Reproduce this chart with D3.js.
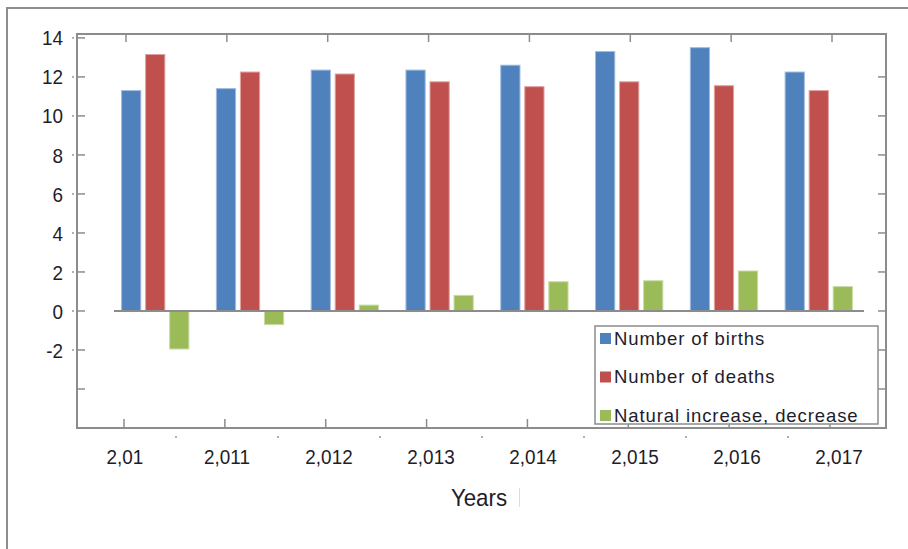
<!DOCTYPE html>
<html lang="en">
<head>
    <meta charset="utf-8">
    <script src="https://d3js.org/d3.v7.min.js"></script>
    <style>
        body { margin: 0; background: #fff; }
        text {
            font-family: "Liberation Sans", Arial, sans-serif;
            fill: #1d1d2b;
        }
    </style>
</head>
<body>

<div id="my_dataviz"></div>

<script>

// Data
const years = ["2010", "2011", "2012", "2013", "2014", "2015", "2016", "2017"];
const yearLabels = ["2,01", "2,011", "2,012", "2,013", "2,014", "2,015", "2,016", "2,017"];
const births = [11.3, 11.4, 12.35, 12.35, 12.6, 13.3, 13.5, 12.25];
const deaths = [13.15, 12.25, 12.15, 11.75, 11.5, 11.75, 11.55, 11.3];
const natural = [-1.95, -0.7, 0.3, 0.8, 1.5, 1.55, 2.05, 1.25];
const seriesNames = ["Number of births", "Number of deaths", "Natural increase, decrease"];
const yTicks = [14, 12, 10, 8, 6, 4, 2, 0, -2, -4];
const yLabelled = [14, 12, 10, 8, 6, 4, 2, 0, -2];

const colors = ["#4f81bd", "#c0504d", "#9bbb59"];
const strokes = ["#9fbbe0", "#e0a3a1", "#c9dca6"];

const width = 908, height = 549;
const plot = { left: 77, top: 34, right: 886, bottom: 428 };

const table = years.map((y, i) => ({ year: y, values: [births[i], deaths[i], natural[i]] }));

const svg = d3.select("#my_dataviz").append("svg")
    .attr("width", width)
    .attr("height", height);

// outer frame (runs off the bottom and right of the picture)
svg.append("rect")
    .attr("x", 7).attr("y", 8)
    .attr("width", 910).attr("height", 560)
    .attr("fill", "none")
    .attr("stroke", "#8e8e8e")
    .attr("stroke-width", 2);

// scales
const y = d3.scaleLinear().domain([-6, 14.2]).range([plot.bottom, plot.top]);

const x0 = d3.scaleBand()
    .domain(years)
    .range([114, 860])
    .paddingInner(0.29)
    .paddingOuter(0.08);

const x1 = d3.scaleBand()
    .domain(d3.range(3))
    .range([0, x0.bandwidth()])
    .paddingInner(0.2);

// year labels and the ticks sit on their own spacing
const xLab = d3.scalePoint().domain(yearLabels).range([125, 839]);
const xTick = d3.scalePoint().domain(yearLabels).range([126, 832]);

// bars
const groups = svg.append("g")
    .selectAll("g")
    .data(table)
    .enter().append("g")
    .attr("transform", d => `translate(${x0(d.year)},0)`);

groups.selectAll("rect")
    .data(d => d.values.map((v, k) => ({ k: k, v: v })))
    .enter().append("rect")
    .attr("x", d => x1(d.k))
    .attr("width", x1.bandwidth())
    .attr("y", d => y(Math.max(0, d.v)))
    .attr("height", d => Math.abs(y(d.v) - y(0)))
    .attr("fill", d => colors[d.k])
    .attr("stroke", d => strokes[d.k])
    .attr("stroke-width", 1);

// zero line
svg.append("line")
    .attr("x1", 114).attr("x2", 864)
    .attr("y1", y(0)).attr("y2", y(0))
    .attr("stroke", "#8c8c8c")
    .attr("stroke-width", 2);

// plot frame
svg.append("rect")
    .attr("x", plot.left).attr("y", plot.top)
    .attr("width", plot.right - plot.left)
    .attr("height", plot.bottom - plot.top)
    .attr("fill", "none")
    .attr("stroke", "#8c8c8c")
    .attr("stroke-width", 2);

// left ticks (inward) and little dots outside
svg.append("g").selectAll("line")
    .data(yTicks)
    .enter().append("line")
    .attr("x1", plot.left).attr("x2", plot.left + 8)
    .attr("y1", d => y(d)).attr("y2", d => y(d))
    .attr("stroke", "#8c8c8c").attr("stroke-width", 1.5);

svg.append("g").selectAll("rect")
    .data(yLabelled)
    .enter().append("rect")
    .attr("x", 72).attr("y", d => y(d) - 1)
    .attr("width", 2).attr("height", 2)
    .attr("fill", "#b0b0b0");

// right ticks
svg.append("g").selectAll("line")
    .data(yTicks.filter(d => d < 14))
    .enter().append("line")
    .attr("x1", plot.right - 8).attr("x2", plot.right)
    .attr("y1", d => y(d)).attr("y2", d => y(d))
    .attr("stroke", "#8c8c8c").attr("stroke-width", 1.5);

// y labels
svg.append("g").selectAll("text")
    .data(yLabelled)
    .enter().append("text")
    .attr("transform", d => `translate(63,${y(d)}) scale(0.9,1)`)
    .attr("text-anchor", "end")
    .attr("dy", "0.36em")
    .style("font-size", "21px")
    .text(d => d);

// top and bottom ticks
svg.append("g").selectAll("line")
    .data(yearLabels)
    .enter().append("line")
    .attr("x1", d => xTick(d)).attr("x2", d => xTick(d))
    .attr("y1", plot.top).attr("y2", plot.top + 8)
    .attr("stroke", "#8c8c8c").attr("stroke-width", 1.5);

svg.append("g").selectAll("line")
    .data(yearLabels)
    .enter().append("line")
    .attr("x1", d => xTick(d) - 2).attr("x2", d => xTick(d) - 2)
    .attr("y1", plot.bottom - 9).attr("y2", plot.bottom)
    .attr("stroke", "#8c8c8c").attr("stroke-width", 1.5);

// dots between the year labels
svg.append("g").selectAll("rect")
    .data(yearLabels.slice(1))
    .enter().append("rect")
    .attr("x", d => xLab(d) - xLab.step() / 2 - 1)
    .attr("y", 436)
    .attr("width", 2).attr("height", 2)
    .attr("fill", "#b0b0b0");

// year labels
svg.append("g").selectAll("text")
    .data(yearLabels)
    .enter().append("text")
    .attr("transform", d => `translate(${xLab(d)},464) scale(0.9,1)`)
    .attr("text-anchor", "middle")
    .style("font-size", "21px")
    .text(d => d);

// axis title
svg.append("text")
    .attr("transform", "translate(479,506) scale(0.93,1)")
    .attr("text-anchor", "middle")
    .style("font-size", "24px")
    .text("Years");

svg.append("line")
    .attr("x1", 519.5).attr("x2", 519.5)
    .attr("y1", 488).attr("y2", 507)
    .attr("stroke", "#f6d9a6").attr("stroke-width", 1);

// legend
const legend = svg.append("g");

legend.append("clipPath").attr("id", "legclip")
    .append("rect")
    .attr("x", 595).attr("y", 326)
    .attr("width", 282).attr("height", 98);

legend.append("rect")
    .attr("x", 595).attr("y", 326)
    .attr("width", 283).attr("height", 98)
    .attr("fill", "#fff")
    .attr("stroke", "#8c8c8c")
    .attr("stroke-width", 1.5);

const entry = legend.append("g")
    .attr("clip-path", "url(#legclip)")
    .selectAll("g")
    .data(seriesNames)
    .enter().append("g")
    .attr("transform", (d, i) => `translate(0,${338 + i * 38.5})`);

entry.append("rect")
    .attr("x", 600).attr("y", -5)
    .attr("width", 11).attr("height", 11)
    .attr("fill", (d, i) => colors[i]);

entry.append("text")
    .attr("x", 614)
    .attr("dy", "0.36em")
    .style("font-size", "18.5px")
    .style("letter-spacing", "0.9px")
    .text(d => d);

</script>
</body>
</html>
